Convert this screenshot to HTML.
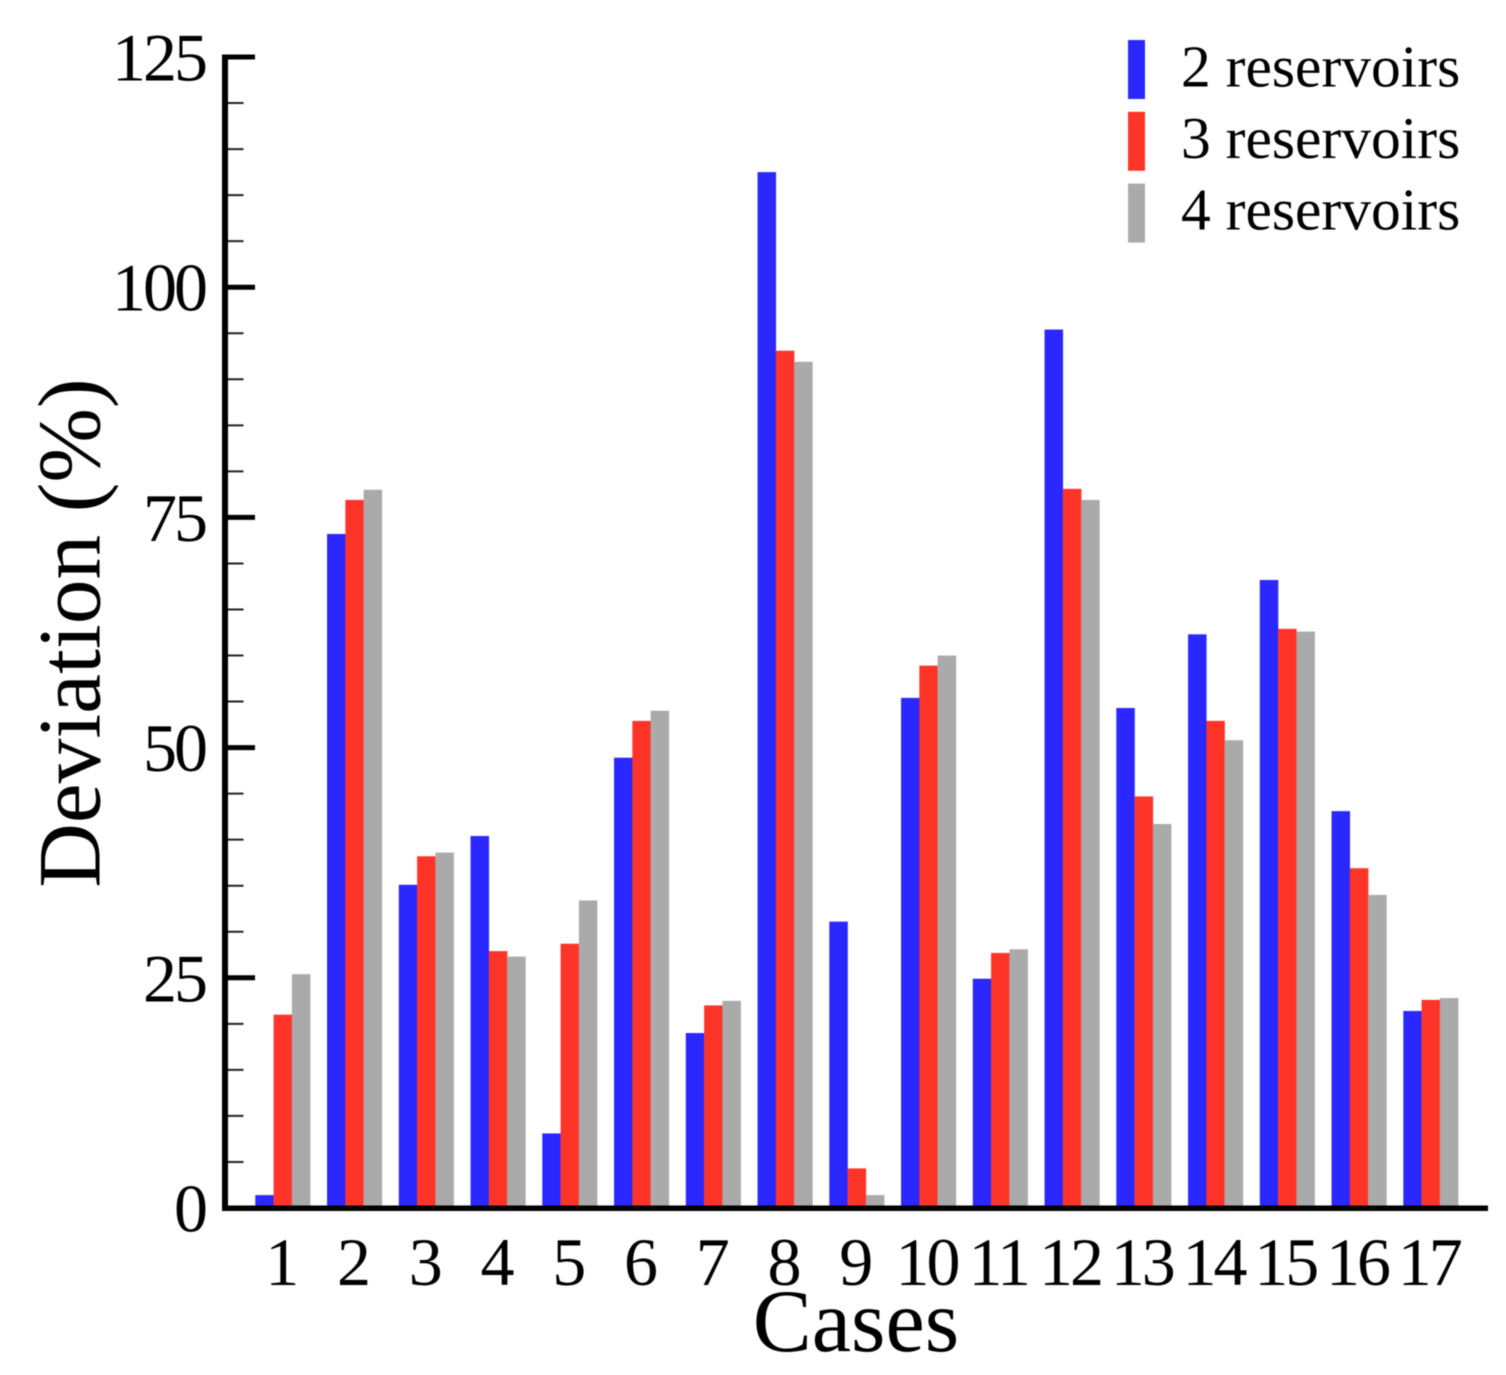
<!DOCTYPE html>
<html lang="en">
<head>
<meta charset="utf-8">
<title>Deviation by case</title>
<style>
html,body{margin:0;padding:0;background:#fff;width:1506px;height:1375px;overflow:hidden}
svg{display:block;filter:blur(0.5px)}
text{font-family:"Liberation Serif",serif;fill:#000}
</style>
</head>
<body>
<svg id="chart" xmlns="http://www.w3.org/2000/svg" width="1506" height="1375" viewBox="0 0 1506 1375"></svg>
<script>
const categories = ["1","2","3","4","5","6","7","8","9","10","11","12","13","14","15","16","17"];
const seriesNames = ["2 reservoirs","3 reservoirs","4 reservoirs"];
const seriesSlugs = ["2-reservoirs","3-reservoirs","4-reservoirs"];
const seriesColors = ["#2a28ff","#ff3428","#aaaaaa"];
const values2 = [1.4,73.2,35.1,40.4,8.1,48.9,19,112.5,31.1,55.4,24.9,95.4,54.3,62.3,68.2,43.1,21.4];
const values3 = [21,76.9,38.2,27.9,28.7,52.9,22,93.1,4.3,58.9,27.7,78.1,44.7,52.9,62.9,36.9,22.6];
const values4 = [25.4,78,38.6,27.3,33.4,54,22.5,91.9,1.4,60,28.1,76.9,41.7,50.8,62.6,34,22.8];
const majorTicks = [0,25,50,75,100,125];
const minorTicks = [5,10,15,20,30,35,40,45,55,60,65,70,80,85,90,95,105,110,115,120];
const yAxisTitle = "Deviation (%)";
const xAxisTitle = "Cases";

const svg = document.getElementById('chart');
const NS = 'http://www.w3.org/2000/svg';
const allSeries = [values2, values3, values4];

const yZero = 1208, yUnit = 9.208;
function yScale(v) { return yZero - v * yUnit; }
const firstBand = 255.3, bandStep = 71.75, barW = 18.3;
function xBand(i) { return firstBand + i * bandStep; }

function make(tag, attrs, txt) {
  const el = document.createElementNS(NS, tag);
  for (const k in attrs) el.setAttribute(k, attrs[k]);
  if (txt !== undefined) el.textContent = txt;
  svg.appendChild(el);
  return el;
}

/* bars */
allSeries.forEach(function (vals, s) {
  vals.forEach(function (v, i) {
    const top = yScale(v);
    const bar = make('rect', {x: xBand(i) + s * barW, y: top, width: barW + 0.2, height: yZero - top, fill: seriesColors[s]});
    
    
  });
});

/* y axis ticks */
minorTicks.forEach(function (v) {
  const t = make('line', {x1: 225, x2: 243.5, y1: yScale(v), y2: yScale(v), stroke: '#222', 'stroke-width': 2});
  
  
});
majorTicks.forEach(function (v) {
  const t = make('line', {x1: 225, x2: 255, y1: yScale(v), y2: yScale(v), stroke: '#000', 'stroke-width': 5});
  
  
  const lab = make('text', {x: 205, y: yScale(v) + 23.5, 'font-size': 68, 'text-anchor': 'end', 'letter-spacing': -3}, String(v));
  
  
});

/* axis lines */
const yAxisLine = make('line', {x1: 225, x2: 225, y1: yScale(125) - 2.5, y2: yZero + 3, stroke: '#000', 'stroke-width': 6});


const xAxisLine = make('line', {x1: 222, x2: 1488, y1: yZero + 0.3, y2: yZero + 0.3, stroke: '#000', 'stroke-width': 5.5});



/* x tick labels */
categories.forEach(function (c, i) {
  const lab = make('text', {x: xBand(i) + 1.5 * barW - 2, y: 1285, 'font-size': 68, 'text-anchor': 'middle', 'letter-spacing': -3}, c);
  
  
});

/* axis titles */
const xTitle = make('text', {x: 856, y: 1351, 'font-size': 88.5, 'text-anchor': 'middle'}, xAxisTitle);


const yTitle = make('text', {x: 0, y: 0, 'font-size': 89.5, 'text-anchor': 'middle', transform: 'translate(99.5 633) rotate(-90)'}, yAxisTitle);



/* legend */
seriesNames.forEach(function (name, s) {
  const swatch = make('rect', {x: 1128, y: 40 + s * 71.8, width: 17, height: 59, fill: seriesColors[s]});
  
  
  const lab = make('text', {x: 1181, y: 86.5 + s * 71.5, 'font-size': 59.5}, name);
  
  
});
</script>
</body>
</html>
